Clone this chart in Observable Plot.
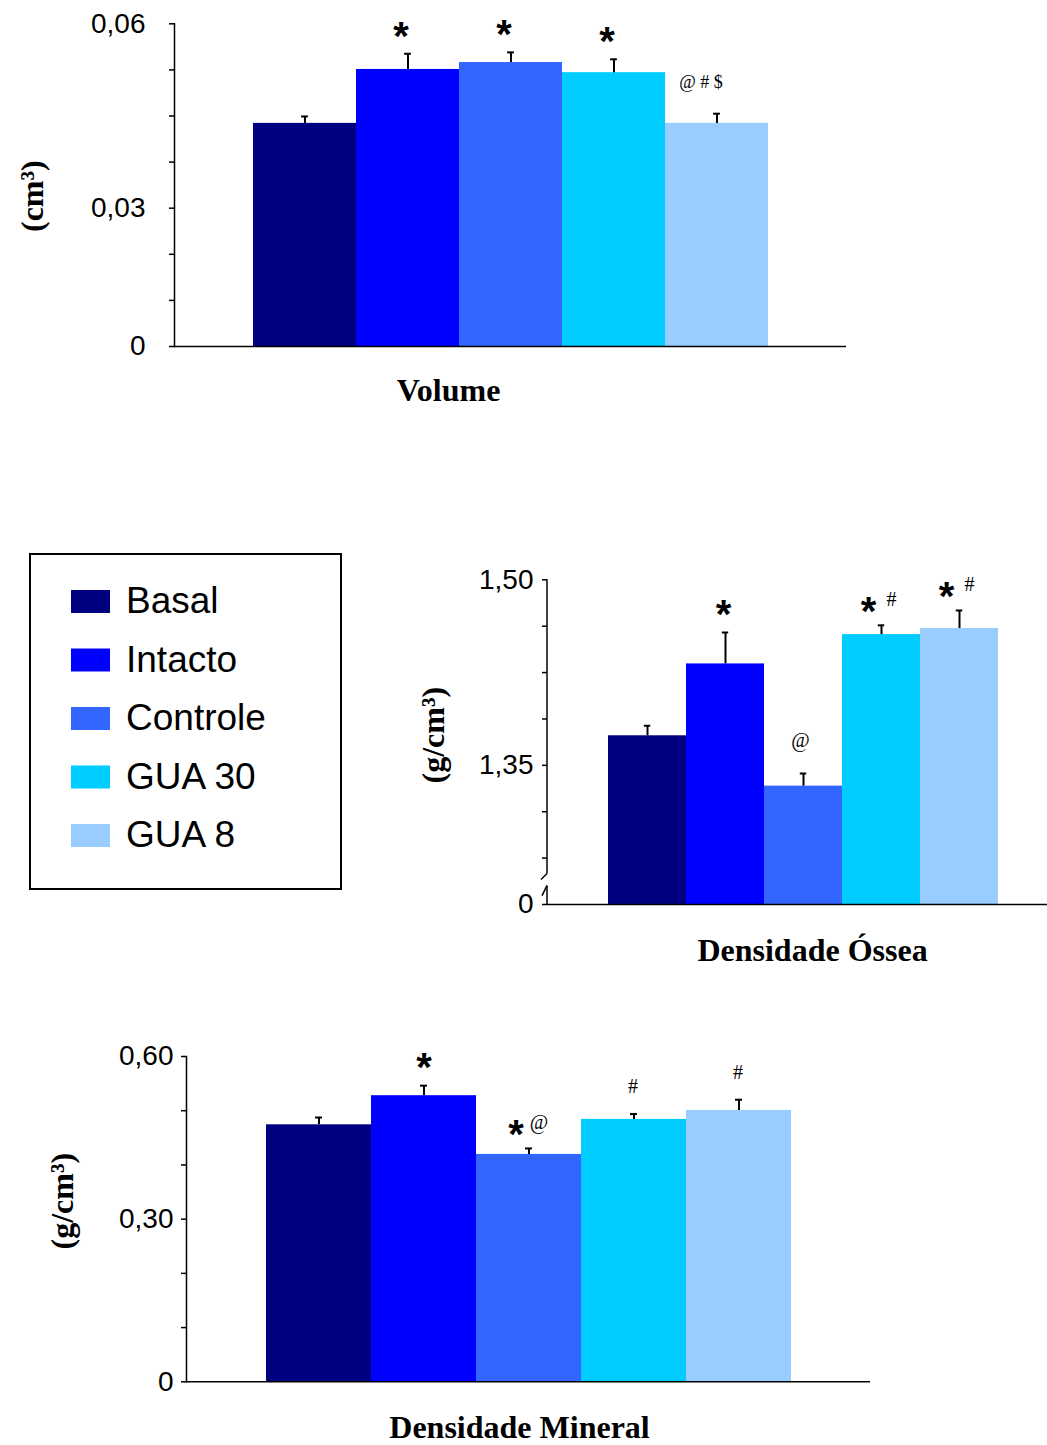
<!DOCTYPE html>
<html><head><meta charset="utf-8">
<script src="https://cdn.jsdelivr.net/npm/d3@7"></script>
<script src="https://cdn.jsdelivr.net/npm/@observablehq/plot@0.6"></script>
<style>
html,body{margin:0;padding:0;background:#fff;overflow:hidden}
#page{position:relative;width:1047px;height:1445px;background:#fff}
.chart{position:absolute;left:0}
.chart svg{display:block}
</style></head>
<body><div id="page"></div>
<script>
// ---------- data ----------
const groups = ["Basal", "Intacto", "Controle", "GUA 30", "GUA 8"];
const colors = ["#000080", "#0000FF", "#3366FF", "#00CCFF", "#99CCFF"];

const volumeValues = [0.0484, 0.0601, 0.0616, 0.0594, 0.0484];
const volumeErrors = [0.0015, 0.0034, 0.0022, 0.0029, 0.0021];
const volumeStars = ["", "*", "*", "*", ""];
const volumeSymbols = ["", "", "", "", "@ # $"];
const volumeTicks = [0, 0.01, 0.02, 0.03, 0.04, 0.05, 0.06, 0.07];
const volumeTickLabels = ["0", "", "", "0,03", "", "", "", "0,06"];

const osseaValues = [1.3739, 1.4320, 1.3332, 1.4557, 1.4606];
const osseaErrors = [0.0081, 0.0254, 0.0102, 0.0075, 0.0146];
const osseaStars = ["", "*", "", "*", "*"];
const osseaSymbols = ["", "", "@", "#", "#"];
const osseaTicks = [1.2375, 1.275, 1.3125, 1.35, 1.3875, 1.425, 1.4625, 1.5];
const osseaTickLabels = ["0", "", "", "1,35", "", "", "", "1,50"];
const osseaBreak = [1.2524, 1.2621];

const mineralValues = [0.474, 0.5277, 0.4194, 0.484, 0.5006];
const mineralErrors = [0.0135, 0.0185, 0.011, 0.0098, 0.0197];
const mineralStars = ["", "*", "*", "", ""];
const mineralSymbols = ["", "", "@", "#", "#"];
const mineralTicks = [0, 0.1, 0.2, 0.3, 0.4, 0.5, 0.6];
const mineralTickLabels = ["0", "", "", "0,30", "", "", "0,60"];

// ---------- drawing ----------
const page = d3.select("#page");

function drawChart(cfg) {
  const data = groups.map((g, i) => ({
    group: g, value: cfg.values[i], top: cfg.values[i] + cfg.errors[i],
    star: cfg.stars[i], sym: cfg.symbols[i]
  }));
  const bw = (cfg.xRange[1] - cfg.xRange[0]) / groups.length;
  const capInset = (bw - 7) / 2;
  const labelOf = new Map(cfg.ticks.map((t, i) => [t, cfg.tickLabels[i]]));
  const starFont = {fontFamily: "Liberation Sans", fontWeight: "bold", fontSize: 40, fill: "black", lineAnchor: "middle"};
  const symFont = {fontFamily: "Liberation Serif", fill: "black", lineAnchor: "middle"};

  const marks = [
    Plot.barY(data, {x: "group", y1: 0, y2: "value", fill: "group"}),
    Plot.ruleX(data, {x: "group", y1: "value", y2: "top", stroke: "black", strokeWidth: 2}),
    Plot.tickY(data, {x: "group", y: "top", stroke: "black", strokeWidth: 2, insetLeft: capInset, insetRight: capInset}),
    Plot.axisY({ticks: cfg.ticks, tickFormat: (d) => labelOf.get(d) ?? "", tickSize: 5,
      tickPadding: cfg.tickPadding, fontSize: 28, fontFamily: "Liberation Sans", label: null,
      strokeWidth: 1.5, fill: "black"}),
    Plot.ruleY([cfg.domain[0]], {stroke: "black", strokeWidth: 1.5}),
    // annotations
    Plot.text(data, {filter: (d) => d.star && !d.sym, x: "group", y: "top", text: "star",
      dx: cfg.starDx, dy: -17, ...starFont}),
    Plot.text(data, {filter: (d) => d.star && d.sym, x: "group", y: "top", text: "star",
      dx: -13, dy: -13, ...starFont}),
    Plot.text(data, {filter: (d) => d.sym && !d.star, x: "group", y: "top", text: "sym",
      dx: cfg.symDx, dy: cfg.symDy, fontSize: cfg.symSize, ...symFont}),
    Plot.text(data, {filter: (d) => d.sym && d.star, x: "group", y: "top", text: "sym",
      dx: 10, dy: -26, fontSize: 20, ...symFont}),
    // axis titles
    Plot.text([cfg.yLabel], {frameAnchor: "left", rotate: -90, text: (d) => d, dx: cfg.yLabelDx, dy: cfg.yLabelDy,
      fontFamily: "Liberation Serif", fontWeight: "bold", fontSize: 32, fill: "black", lineAnchor: "middle", textAnchor: "middle"}),
    Plot.text([cfg.xLabel], {frameAnchor: "bottom", text: (d) => d, dx: cfg.xLabelDx, dy: cfg.xLabelDy,
      fontFamily: "Liberation Serif", fontWeight: "bold", fontSize: 32, fill: "black", lineAnchor: "middle"})
  ];

  if (cfg.breakVals) {
    const bv = cfg.breakVals, dom = cfg.domain;
    marks.push((index, scales, values, dims) => {
      const y = scales.y, x0 = dims.marginLeft;
      const g = d3.create("svg:g").attr("stroke", "black").attr("stroke-width", 1.5).attr("fill", "none");
      const yTop = y(dom[1]), yBot = y(dom[0]);
      const yA = y(bv[1]), yB = y(bv[0]);
      g.append("line").attr("x1", x0).attr("x2", x0).attr("y1", yTop).attr("y2", yA);
      g.append("line").attr("x1", x0).attr("x2", x0).attr("y1", yB).attr("y2", yBot);
      g.append("line").attr("x1", x0).attr("y1", yA).attr("x2", x0 - 6).attr("y2", yA + 6);
      g.append("line").attr("x1", x0).attr("y1", yB).attr("x2", x0 - 5).attr("y2", yB + 10);
      return g.node();
    });
  } else {
    marks.push(Plot.frame({anchor: "left", stroke: "black", strokeWidth: 1.5}));
  }

  const plot = Plot.plot({
    width: 1047, height: cfg.height,
    marginLeft: cfg.marginLeft, marginRight: cfg.marginRight,
    marginTop: cfg.marginTop, marginBottom: cfg.marginBottom,
    style: {background: "white", fontFamily: "Liberation Sans", overflow: "visible"},
    x: {domain: groups, range: cfg.xRange, padding: 0, axis: null},
    y: {domain: cfg.domain, clamp: true},
    color: {domain: groups, range: colors},
    marks
  });
  page.append("div").attr("class", "chart").style("top", cfg.top + "px").node().appendChild(plot);
}

drawChart({
  top: 0, height: 420, marginLeft: 174, marginRight: 201, marginTop: 23.3, marginBottom: 74,
  xRange: [252, 768], domain: [0, 0.07],
  values: volumeValues, errors: volumeErrors, stars: volumeStars, symbols: volumeSymbols,
  ticks: volumeTicks, tickLabels: volumeTickLabels, tickPadding: 24,
  starDx: -7, symDx: -16, symDy: -31, symSize: 18,
  yLabel: "(cm³)", yLabelDx: -142, yLabelDy: 11,
  xLabel: "Volume", xLabelDx: -62, xLabelDy: 44
});

drawChart({
  top: 540, height: 430, marginLeft: 547, marginRight: 0, marginTop: 39.3, marginBottom: 66,
  xRange: [606, 999], domain: [1.2375, 1.5], breakVals: osseaBreak,
  values: osseaValues, errors: osseaErrors, stars: osseaStars, symbols: osseaSymbols,
  ticks: osseaTicks, tickLabels: osseaTickLabels, tickPadding: 9,
  starDx: -2, symDx: -3, symDy: -33, symSize: 20,
  yLabel: "(g/cm³)", yLabelDx: -114, yLabelDy: -7,
  xLabel: "Densidade Óssea", xLabelDx: 15, xLabelDy: 46
});

drawChart({
  top: 1030, height: 415, marginLeft: 186, marginRight: 177, marginTop: 26, marginBottom: 63.7,
  xRange: [266, 791], domain: [0, 0.6],
  values: mineralValues, errors: mineralErrors, stars: mineralStars, symbols: mineralSymbols,
  ticks: mineralTicks, tickLabels: mineralTickLabels, tickPadding: 8,
  starDx: 0, symDx: -1, symDy: -27, symSize: 20,
  yLabel: "(g/cm³)", yLabelDx: -124, yLabelDy: -18,
  xLabel: "Densidade Mineral", xLabelDx: -9, xLabelDy: 46
});

// ---------- legend ----------
const lg = page.append("svg").attr("width", 313).attr("height", 337)
  .style("position", "absolute").style("left", "29px").style("top", "553px");
lg.append("rect").attr("x", 1).attr("y", 1).attr("width", 311).attr("height", 335)
  .attr("fill", "white").attr("stroke", "black").attr("stroke-width", 2);
groups.forEach((g, i) => {
  const y0 = 37 + 58.5 * i;
  lg.append("rect").attr("x", 42).attr("y", y0).attr("width", 39).attr("height", 23).attr("fill", colors[i]);
  lg.append("text").attr("x", 97).attr("y", y0 + 23).text(g)
    .attr("font-family", "Liberation Sans").attr("font-size", 37).attr("fill", "black");
});
</script>
</body></html>
